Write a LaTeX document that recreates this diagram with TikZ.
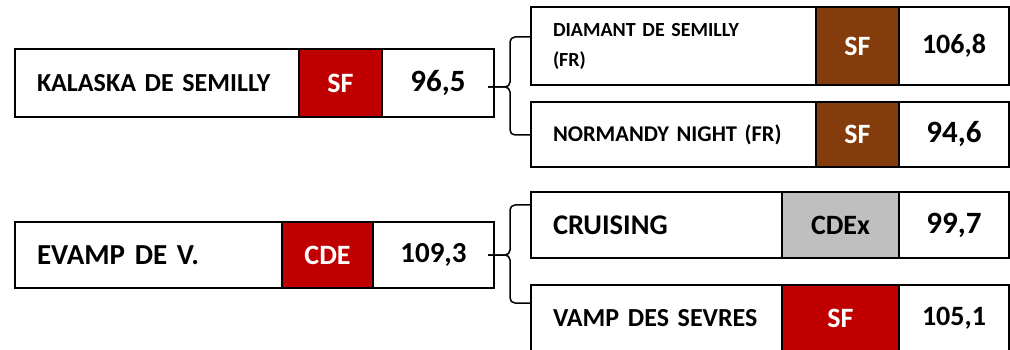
\documentclass[tikz,border=0pt]{standalone}
\usepackage{fontspec}
\setmainfont{Carlito}
\usetikzlibrary{positioning,calc}
\definecolor{rojoSF}{HTML}{C00000}
\definecolor{marronSF}{HTML}{843C0C}
\definecolor{grisCDE}{HTML}{BFBFBF}

\begin{document}
\begin{tikzpicture}[x=1pt,y=-1pt,
  celda/.style={draw,line width=2pt,outer sep=0pt,inner sep=0pt},
  nombre/.style={celda,align=left,inner xsep=22pt},
  tam/.style={font=\bfseries\fontsize{#1}{30}\selectfont},
  llave/.style={line width=1.5pt,rounded corners=5pt}]
  \useasboundingbox (0,0) rectangle (1010,350);
  \clip (0,0) rectangle (1010,350);
  \node[nombre,tam=26,text width=240pt,minimum height=68pt,anchor=north west] (k1) at (15,49) {KALASKA DE SEMILLY};
  \node[celda,fill=rojoSF,text=white,tam=28,minimum width=83pt,minimum height=68pt,right=0pt of k1] (k2) {SF};
  \node[celda,tam=31,minimum width=112pt,minimum height=68pt,right=0pt of k2] (k3) {96,5};
  \node[nombre,tam=29,text width=223pt,minimum height=66pt,anchor=north west] (e1) at (15,222) {EVAMP DE V.};
  \node[celda,fill=rojoSF,text=white,tam=28,minimum width=91pt,minimum height=66pt,right=0pt of e1] (e2) {CDE};
  \node[celda,tam=29,minimum width=121pt,minimum height=66pt,right=0pt of e2] (e3) {109,3};
  \node[nombre,tam=20,text width=241pt,minimum height=78pt,anchor=north west] (d1) at (531,7) {DIAMANT DE SEMILLY\\(FR)};
  \node[celda,fill=marronSF,text=white,tam=28,minimum width=83pt,minimum height=78pt,right=0pt of d1] (d2) {SF};
  \node[celda,tam=28,minimum width=110pt,minimum height=78pt,right=0pt of d2] (d3) {106,8};
  \node[nombre,tam=22.5,text width=241pt,minimum height=65pt,anchor=north west] (n1) at (531,102) {NORMANDY NIGHT (FR)};
  \node[celda,fill=marronSF,text=white,tam=28,minimum width=83pt,minimum height=65pt,right=0pt of n1] (n2) {SF};
  \node[celda,tam=31,minimum width=110pt,minimum height=65pt,right=0pt of n2] (n3) {94,6};
  \node[nombre,tam=28.5,text width=207pt,minimum height=66pt,anchor=north west] (c1) at (531,192) {CRUISING};
  \node[celda,fill=grisCDE,tam=28,minimum width=117pt,minimum height=66pt,right=0pt of c1] (c2) {CDEx};
  \node[celda,tam=31,minimum width=110pt,minimum height=66pt,right=0pt of c2] (c3) {99,7};
  \node[nombre,tam=26,text width=207pt,minimum height=66pt,anchor=north west] (v1) at (531,285) {VAMP DES SEVRES};
  \node[celda,fill=rojoSF,text=white,tam=28,minimum width=117pt,minimum height=66pt,right=0pt of v1] (v2) {SF};
  \node[celda,tam=28,minimum width=110pt,minimum height=66pt,right=0pt of v2] (v3) {105,1};
  \coordinate (p1) at ($(k3.east)+(-6,4)$);
  \coordinate (p2) at ($(e3.east)+(-6,0)$);
  \coordinate (a1) at ($(p1)+(0,-50)$);
  \coordinate (b1) at ($(p1)+(0,48)$);
  \coordinate (a2) at ($(p2)+(0,-50)$);
  \coordinate (b2) at ($(p2)+(0,48)$);
  \draw[llave] (p1) -- ++(22,0) |- (a1 -| d1.west);
  \draw[llave] (p1) -- ++(22,0) |- (b1 -| n1.west);
  \draw[llave] (p2) -- ++(22,0) |- (a2 -| c1.west);
  \draw[llave] (p2) -- ++(22,0) |- (b2 -| v1.west);
\end{tikzpicture}
\end{document}
